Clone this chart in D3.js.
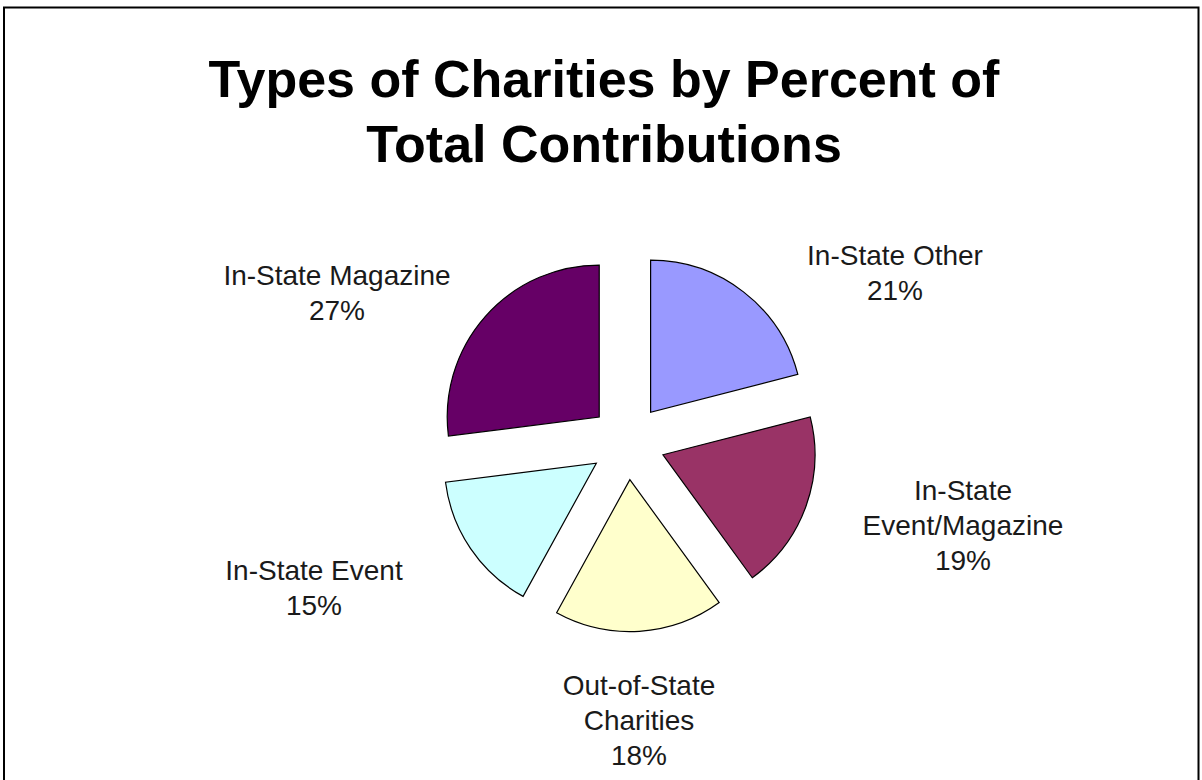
<!DOCTYPE html>
<html>
<head>
<meta charset="utf-8">
<script src="https://cdn.jsdelivr.net/npm/d3@7"></script>
<style>
  html, body { margin: 0; padding: 0; background: #fff; }
  svg { display: block; }
  text { font-family: "Liberation Sans", Arial, sans-serif; }
</style>
</head>
<body>
<script>
// ---- Data ----
const categories = ["In-State Other", "In-State Event/Magazine", "Out-of-State Charities", "In-State Event", "In-State Magazine"];
const values = [21, 19, 18, 15, 27];
const percentLabels = ["21%", "19%", "18%", "15%", "27%"];
const titleLines = ["Types of Charities by Percent of", "Total Contributions"];

// ---- Styles / layout (kept separate from data) ----
const colors = ["#9999FF", "#993366", "#FFFFCC", "#CCFFFF", "#660066"];
const labelAnchors = [[895, 265], [963, 500], [639, 695], [314, 580], [337, 285]];

const W = 1202, H = 780;
const cx = 627.5, cy = 442, R = 152, explode = 37.7;
const lineH = 35, wrapWidth = 250;

const svg = d3.select("body").append("svg").attr("width", W).attr("height", H);
svg.append("rect").attr("width", W).attr("height", H).attr("fill", "#fff");

// frame
svg.append("rect").attr("x", 4).attr("y", 7.5).attr("width", 1194.5).attr("height", 800)
  .attr("fill", "none").attr("stroke", "#000").attr("stroke-width", 2);

// title
const title = svg.append("text").attr("text-anchor", "middle")
  .attr("font-size", 52).attr("font-weight", "bold").attr("fill", "#000");
title.selectAll("tspan").data(titleLines).join("tspan")
  .attr("x", 604).attr("y", (d, i) => 97 + i * 65).text(d => d);

// pie
const pie = d3.pie().sort(null).value(d => d)(values);
const arc = d3.arc().innerRadius(0).outerRadius(R);
const g = svg.append("g").attr("transform", `translate(${cx},${cy})`);
g.selectAll("path").data(pie).join("path")
  .attr("d", arc)
  .attr("transform", d => {
    const a = (d.startAngle + d.endAngle) / 2;
    return `translate(${explode * Math.sin(a)},${-explode * Math.cos(a)})`;
  })
  .attr("fill", (d, i) => colors[i])
  .attr("stroke", "#000").attr("stroke-width", 1.2).attr("stroke-linejoin", "miter");

// labels
const measure = svg.append("text").attr("font-size", 28).attr("visibility", "hidden");
function wrap(str) {
  const words = str.split(" ");
  const lines = [];
  let cur = "";
  words.forEach(w => {
    const trial = cur ? cur + " " + w : w;
    measure.text(trial);
    if (cur && measure.node().getComputedTextLength() > wrapWidth) {
      lines.push(cur); cur = w;
    } else cur = trial;
  });
  if (cur) lines.push(cur);
  return lines;
}
const labelData = categories.map((c, i) => ({ lines: wrap(c).concat([percentLabels[i]]), pos: labelAnchors[i] }));
measure.remove();

svg.selectAll("text.lbl").data(labelData).join("text").attr("class", "lbl")
  .attr("text-anchor", "middle").attr("font-size", 28).attr("fill", "#1a1a1a")
  .each(function(d) {
    d3.select(this).selectAll("tspan").data(d.lines).join("tspan")
      .attr("x", d.pos[0]).attr("y", (t, j) => d.pos[1] + j * lineH).text(t => t);
  });
</script>
</body>
</html>
